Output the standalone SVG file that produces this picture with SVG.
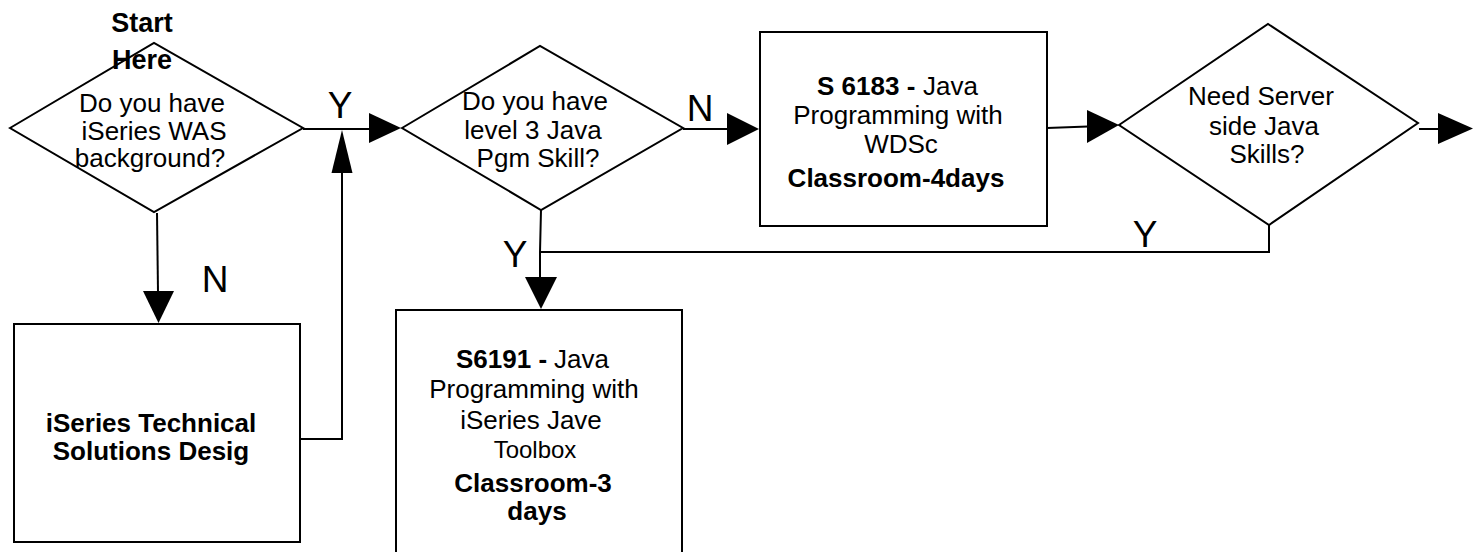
<svg xmlns="http://www.w3.org/2000/svg" width="1476" height="552" viewBox="0 0 1476 552">
<style>
.shape{fill:#fff;stroke:#000;stroke-width:2}
.line{fill:none;stroke:#000;stroke-width:2}
.head{fill:#000;stroke:none}
text{font-family:"Liberation Sans",Arial,sans-serif;font-size:26px;fill:#000;text-anchor:middle}
.b{font-weight:bold}
.s{text-anchor:start}
.lbl{font-size:37px}
</style>
<rect width="1476" height="552" fill="#fff"/>
<g id="d1">
<polygon class="shape" points="10,128 154,43 303,128 154,212"/>
<text x="152" y="112">Do you have</text>
<text x="154" y="140">iSeries WAS</text>
<text x="150" y="167">background?</text>
</g>
<g id="start">
<text class="b" x="142" y="32" style="font-size:27px">Start</text>
<text class="b" x="142" y="69" style="font-size:27px">Here</text>
</g>
<g id="r1">
<rect class="shape" x="14" y="324" width="286" height="218"/>
<text class="b" x="151" y="432">iSeries Technical</text>
<text class="b" x="151" y="460">Solutions Desig</text>
</g>
<g id="d2">
<polygon class="shape" points="402,128 540,46 683,128 541,210"/>
<text x="535" y="110">Do you have</text>
<text x="533" y="139">level 3 Java</text>
<text x="538" y="167">Pgm Skill?</text>
</g>
<g id="r2">
<rect class="shape" x="760" y="32" width="287" height="194"/>
<text class="b s" x="817" y="95">S 6183 -</text>
<text class="s" x="923" y="95">Java</text>
<text x="898" y="124">Programming with</text>
<text x="901" y="153">WDSc</text>
<text class="b" x="896" y="187">Classroom-4days</text>
</g>
<g id="d3">
<polygon class="shape" points="1119,125 1268,24 1418,123 1269,225"/>
<text x="1261" y="105">Need Server</text>
<text x="1264" y="135">side Java</text>
<text x="1267" y="163">Skills?</text>
</g>
<g id="r3">
<rect class="shape" x="396" y="310" width="286" height="260"/>
<text class="b s" x="456" y="368">S6191 -</text>
<text class="s" x="554" y="368">Java</text>
<text x="534" y="398">Programming with</text>
<text x="531" y="429">iSeries Jave</text>
<text x="535" y="458" style="font-size:24px">Toolbox</text>
<text class="b" x="533" y="492">Classroom-3</text>
<text class="b" x="537" y="520">days</text>
</g>
<g id="connectors">
<line class="line" x1="303" y1="129" x2="370" y2="129"/>
<polygon class="head" points="369,113 401,128 369,143"/>
<line class="line" x1="157" y1="213" x2="158" y2="292"/>
<polygon class="head" points="143,291 174,291 158.5,323"/>
<polyline class="line" points="300,439 342,439 342,172"/>
<polygon class="head" points="331.5,173 352.5,173 342,130"/>
<line class="line" x1="683" y1="129" x2="728" y2="129"/>
<polygon class="head" points="727,113 759,129 727,145"/>
<line class="line" x1="1047" y1="128" x2="1088" y2="126.5"/>
<polygon class="head" points="1087,110 1119,125 1087,143"/>
<line class="line" x1="1419" y1="129" x2="1439" y2="129"/>
<polygon class="head" points="1438,113 1473,128.5 1438,144"/>
<polyline class="line" points="1269,225 1269,252 540,252"/>
<polyline class="line" points="541,210 540,252 540,278"/>
<polygon class="head" points="525,277 557,277 541,309"/>
<text class="lbl" x="340" y="118">Y</text>
<text class="lbl" x="215" y="292">N</text>
<text class="lbl" x="700" y="121">N</text>
<text class="lbl" x="515" y="267">Y</text>
<text class="lbl" x="1145" y="247">Y</text>
</g>
</svg>
